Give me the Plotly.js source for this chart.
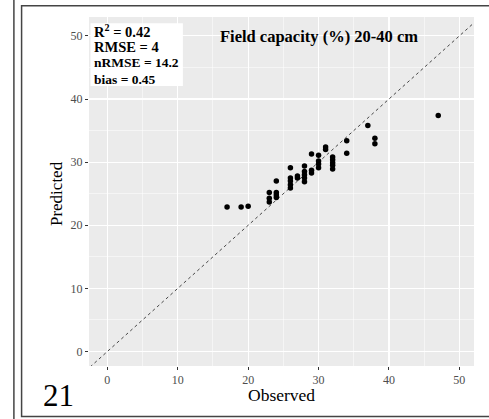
<!DOCTYPE html>
<html>
<head>
<meta charset="utf-8">
<script src="https://cdn.plot.ly/plotly-3.0.1.min.js"></script>
<style>html,body{margin:0;padding:0;background:#fff;}#chart{width:489px;height:419px;}</style>
</head>
<body>
<div id="chart"></div>
<script>
// Data
const observed = [17,19,20,23,23,23,24,24,24,24,26,26,26,26,26,27,27,28,28,28,28,28,29,29,29,30,30,30,30,31,31,32,32,32,32,32,34,34,37,38,38,47];
const predicted = [22.9,22.9,23.0,25.2,24.3,23.7,27.0,25.2,24.8,24.4,29.1,27.5,27.0,26.4,25.9,27.8,27.5,29.4,28.5,28.0,27.5,26.9,31.3,28.7,28.3,31.1,30.2,29.7,29.1,32.4,32.0,30.8,30.4,29.9,29.5,28.9,33.4,31.4,35.8,33.8,32.9,37.4];
const oneToOne = [-5, 60];
const tickVals = [0,10,20,30,40,50];
const statLines = ["R<sup>2</sup> = 0.42", "RMSE = 4", "nRMSE = 14.2", "bias = 0.45"];
const titleText = "Field capacity (%) 20-40 cm";
const xTitle = "Observed";
const yTitle = "Predicted";
const panelLabel = "21";

// pixel geometry helpers
const W = 489, H = 419;
const L = 88.5, R = 474, T = 17, B = 366;
const px = x => (x - L) / (R - L);
const py = y => (B - y) / (B - T);
const serif = "Liberation Serif, Times New Roman, serif";

const traces = [
  {x: oneToOne, y: oneToOne, mode: 'lines', type: 'scatter',
   line: {color: '#333', width: 0.9, dash: '3px,3px'}, hoverinfo: 'skip'},
  {x: observed, y: predicted, mode: 'markers', type: 'scatter',
   marker: {color: '#000', size: 5.5}}
];

const axisCommon = {
  showgrid: true, gridcolor: '#fff', gridwidth: 1.1, zeroline: false,
  ticks: 'outside', ticklen: 3, tickcolor: '#333', tickwidth: 1,
  tickvals: tickVals, ticktext: tickVals.map(String),
  tickfont: {family: serif, size: 12, color: '#4D4D4D'},
  showline: false,
  minor: {showgrid: true, gridcolor: '#fff', gridwidth: 0.5, dtick: 5, tick0: 0, ticks: ''}
};

const annotations = [
  {xref: 'paper', yref: 'paper', x: px(318.5), y: py(36), text: '<b>' + titleText + '</b>', showarrow: false,
   font: {family: serif, size: 16.5, color: '#000'}, xanchor: 'center', yanchor: 'middle'},
  {xref: 'paper', yref: 'paper', x: px(281), y: py(395), text: xTitle, showarrow: false,
   font: {family: serif, size: 17.5, color: '#000'}, xanchor: 'center', yanchor: 'middle'},
  {xref: 'paper', yref: 'paper', x: px(56), y: py(193.5), text: yTitle, showarrow: false, textangle: -90,
   font: {family: serif, size: 17, color: '#000'}, xanchor: 'center', yanchor: 'middle'},
  {xref: 'paper', yref: 'paper', x: px(57.5), y: py(395), text: panelLabel, showarrow: false,
   font: {family: serif, size: 31, color: '#000'}, xanchor: 'center', yanchor: 'middle'}
];
const statY = [31, 46.7, 62.7, 79.3];
const statSize = [14.5, 14.5, 13.5, 13.5];
statLines.forEach((t, i) => annotations.push({
  xref: 'paper', yref: 'paper', x: px(91.5), y: py(statY[i]), text: '<b>' + t + '</b>', showarrow: false,
  font: {family: serif, size: statSize[i], color: '#000'}, xanchor: 'left', yanchor: 'middle'
}));

const shapes = [
  {type: 'rect', xref: 'paper', yref: 'paper', x0: px(90), x1: px(182.5), y0: py(86), y1: py(23.3),
   fillcolor: '#fff', line: {width: 0}, layer: 'below'},
  {type: 'line', xref: 'paper', yref: 'paper', x0: px(13.3), x1: px(13.3), y0: py(-2), y1: py(421),
   line: {color: '#444', width: 1.5}},
  {type: 'rect', xref: 'paper', yref: 'paper', x0: px(21), x1: px(495), y0: py(416.5), y1: py(5.7),
   line: {color: '#444', width: 1.5}, fillcolor: 'rgba(0,0,0,0)'}
];

const layout = {
  width: W, height: H,
  margin: {l: L, r: W - R, t: T, b: H - B, pad: 0},
  paper_bgcolor: '#fff', plot_bgcolor: '#EBEBEB',
  showlegend: false,
  xaxis: Object.assign({}, axisCommon, {range: [-2.61, 52.08]}),
  yaxis: Object.assign({}, axisCommon, {range: [-2.3, 53]}),
  annotations: annotations,
  shapes: shapes
};

Plotly.newPlot('chart', traces, layout, {displayModeBar: false, staticPlot: true});
</script>
</body>
</html>
